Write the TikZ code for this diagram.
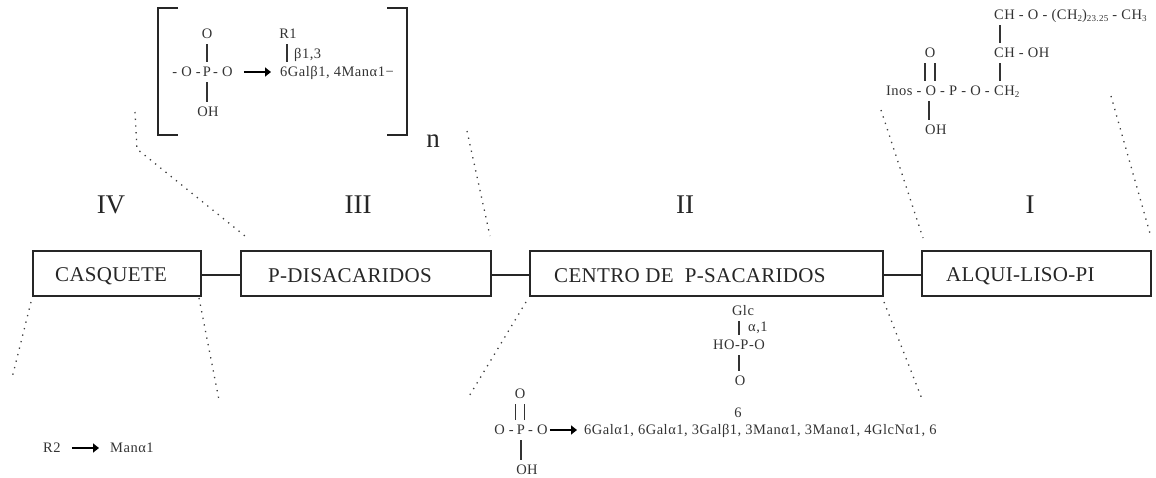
\documentclass[tikz,border=0pt]{standalone}
\usepackage{fontspec}
\setmainfont{Liberation Serif}
\newfontfamily\chemfont[LetterSpace=3.5]{Liberation Serif}
\newfontfamily\boxfont[LetterSpace=1.5]{Liberation Serif}
\usetikzlibrary{arrows.meta}
\newcommand{\sml}[1]{\raisebox{-2pt}{\fontsize{9}{9}\selectfont #1}}
\tikzset{
 x=1pt,y=-1pt,
 chem/.style={inner sep=0pt,text height=9.5pt,text depth=0pt,minimum height=20pt,text=black!80,font=\chemfont\fontsize{14.5}{15}\selectfont},
 boxlab/.style={anchor=west,inner sep=0pt,text=black!85,font=\boxfont\fontsize{21}{23}\selectfont},
 roman/.style={inner sep=0pt,text=black!85,font=\fontsize{27}{29}\selectfont},
 partbox/.style={draw=black!85,line width=1.5pt,inner sep=0pt,minimum height=45pt},
 link/.style={draw=black!85,line width=1.7pt},
 bond/.style={draw=black!80,line width=1.4pt},
 brk/.style={draw=black!85,line width=1.5pt},
 fat/.style={draw=black,line width=2.8pt,-{Triangle[length=6pt,width=9pt]}},
 dots/.style={draw=black!75,line width=1.3pt,dash pattern=on 1.3pt off 5.4pt},
}
\begin{document}
\begin{tikzpicture}
\useasboundingbox (0,0) rectangle (1156,477);
% boxes
\node[partbox,minimum width=168pt,anchor=west] (b4) at (32,273.5) {};
\node[partbox,minimum width=250pt,anchor=west] (b3) at (240,273.5) {};
\node[partbox,minimum width=353pt,anchor=west] (b2) at (529,273.5) {};
\node[partbox,minimum width=229pt,anchor=west] (b1) at (921,273.5) {};
\draw[link] ([yshift=-1.2pt]b4.east) -- ([yshift=-1.2pt]b3.west);
\draw[link] ([yshift=-1.2pt]b3.east) -- ([yshift=-1.2pt]b2.west);
\draw[link] ([yshift=-1.2pt]b2.east) -- ([yshift=-1.2pt]b1.west);
\node[boxlab] (t4) at (55,276) {CASQUETE};
\node[boxlab] (t3) at (268,276) {P-DISACARIDOS};
\node[boxlab] (t2) at (554,276) {CENTRO DE\ \ P-SACARIDOS};
\node[boxlab] (t1) at (946,276) {ALQUI-LISO-PI};
\node[roman] (r4) at (111,205) {IV};
\node[roman] (r3) at (358,205) {III};
\node[roman] (r2) at (685,205) {II};
\node[roman] (r1) at (1030,205) {I};
% dotted guides
\coordinate (d1a) at (135,112); \coordinate (d1b) at (137,149); \coordinate (d1c) at (245,236);
\coordinate (d2a) at (467,131); \coordinate (d2b) at (490,236);
\coordinate (d3a) at (881,110); \coordinate (d3b) at (923,238);
\coordinate (d4a) at (1111,96); \coordinate (d4b) at (1151,237);
\coordinate (d5a) at (31,302); \coordinate (d5b) at (12,378);
\coordinate (d6a) at (199,298); \coordinate (d6b) at (219,400);
\coordinate (d7a) at (526,302); \coordinate (d7b) at (468,398);
\coordinate (d8a) at (884,302); \coordinate (d8b) at (922,399);
\draw[dots] (d1a) -- (d1b) -- (d1c);
\draw[dots] (d2a) -- (d2b);
\draw[dots] (d3a) -- (d3b);
\draw[dots] (d4a) -- (d4b);
\draw[dots] (d5a) -- (d5b);
\draw[dots] (d6a) -- (d6b);
\draw[dots] (d7a) -- (d7b);
\draw[dots] (d8a) -- (d8b);
% brackets
\coordinate (bl1) at (178,8); \coordinate (bl2) at (158,8); \coordinate (bl3) at (158,135); \coordinate (bl4) at (178,135);
\coordinate (br1) at (387,8); \coordinate (br2) at (407,8); \coordinate (br3) at (407,135); \coordinate (br4) at (387,135);
\draw[brk] (bl1) -- (bl2) -- (bl3) -- (bl4);
\draw[brk] (br1) -- (br2) -- (br3) -- (br4);
\node[roman] (nn) at (433,141) {n};
% repeat unit
\node[chem] (aO) at (207,34) {O};
\node[chem] (aP) at (207,72) {P};
\node[chem,anchor=east] (aL) at (201,72) {- O -};
\node[chem,anchor=west] (aR) at (213,72) {- O};
\node[chem] (aOH) at (208,112) {OH};
\draw[bond] (aO) -- (aP);
\draw[bond] (aP.south) -- (aOH.north -| aP);
\node[chem,anchor=west] (aS) at (280,72) {6Galβ1, 4Manα1−};
\draw[fat,shorten <=11pt,shorten >=9pt] (aR.east) -- (aS.west);
\node[chem] (aR1) at (288,34) {R1};
\coordinate (aJ) at (287,72);
\draw[bond] (aR1.south -| aJ) -- ([yshift=10pt]aJ);
\node[chem,anchor=west] (aB) at (294,54) {β1,3};
% lipid
\node[chem,anchor=west] (c1) at (994,15) {CH - O - (CH\sml{2})\sml{23.25} - CH\sml{3}};
\node[chem,anchor=west] (c2) at (994,53) {CH - OH};
\node[chem,anchor=west] (c3) at (994,91) {CH\sml{2}};
\node[chem,anchor=east] (c4) at (990,91) {Inos - O - P - O -};
\coordinate (cx) at (1000,0);
\draw[bond] (c1.south -| cx) -- (c2.north -| cx);
\draw[bond] (c2.south -| cx) -- (c3.north -| cx);
\node[chem] (c5) at (930,53) {O};
\node[chem,anchor=west] (c6) at (925,130) {OH};
\coordinate (cy) at (929,0);
\draw[bond] ([xshift=-5pt]c5.south) -- ([xshift=-5pt]c5.south |- c4.north);
\draw[bond] ([xshift=5pt]c5.south) -- ([xshift=5pt]c5.south |- c4.north);
\draw[bond] (c4.south -| cy) -- (c6.north -| cy);
% branch
\node[chem] (g1) at (743,311) {Glc};
\node[chem,anchor=west] (g2) at (748,327) {α,1};
\node[chem] (g3) at (739,345) {HO-P-O};
\node[chem] (g4) at (740,381) {O};
\coordinate (gx) at (739,0);
\draw[bond] (g1.south -| gx) -- (g3.north -| gx);
\draw[bond] (g3.south -| gx) -- (g4.north -| gx);
\node[chem] (g5) at (738,413) {6};
% core
\node[chem] (k1) at (520,394) {O};
\node[chem] (kP) at (521,430) {P};
\node[chem,anchor=east] (kL) at (514,430) {O -};
\node[chem,anchor=west] (kR) at (528,430) {- O};
\node[chem,anchor=west] (k2) at (584,430) {6Galα1, 6Galα1, 3Galβ1, 3Manα1, 3Manα1, 4GlcNα1, 6};
\node[chem] (k3) at (527,470) {OH};
\coordinate (kx) at (521,0);
\draw[bond] ([xshift=-4.5pt]k1.south) -- ([xshift=-4.5pt]k1.south |- kP.north);
\draw[bond] ([xshift=4.5pt]k1.south) -- ([xshift=4.5pt]k1.south |- kP.north);
\draw[bond] (kP.south -| kx) -- (k3.north -| kx);
\draw[fat,shorten <=2pt,shorten >=7pt] (kR.east) -- (k2.west);
% cap
\node[chem,anchor=west] (m1) at (43,448) {R2};
\node[chem,anchor=west] (m2) at (110,448) {Manα1};
\draw[fat,shorten <=11pt,shorten >=11pt] (m1.east) -- (m2.west);
\end{tikzpicture}
\end{document}
